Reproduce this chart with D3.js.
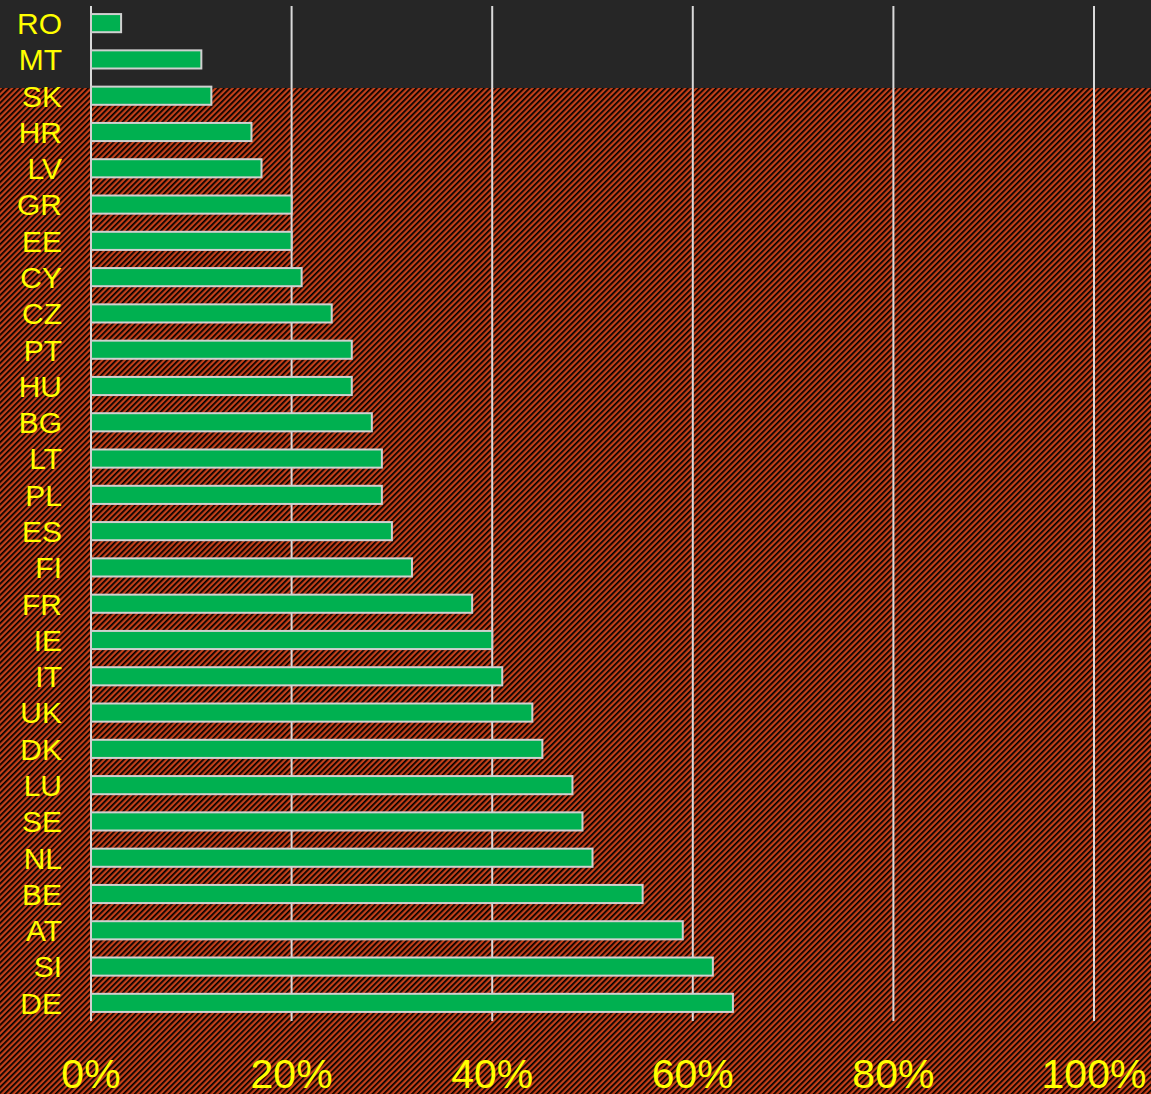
<!DOCTYPE html>
<html>
<head>
<meta charset="utf-8">
<style>
  body { margin: 0; background: #262626; }
  svg { display: block; }
  text { font-family: "Liberation Sans", Arial, sans-serif; }
</style>
</head>
<body>
<svg width="1151" height="1094"></svg>
<script src="https://d3js.org/d3.v7.min.js"></script>
<script>
// country codes, top to bottom
var countries = ["RO","MT","SK","HR","LV","GR","EE","CY","CZ","PT","HU","BG","LT","PL",
                 "ES","FI","FR","IE","IT","UK","DK","LU","SE","NL","BE","AT","SI","DE"];
// share in percent
var values = [3,11,12,16,17,20,20,21,24,26,26,28,29,29,
              30,32,38,40,41,44,45,48,49,50,55,59,62,64];
var tickValues = [0, 20, 40, 60, 80, 100];

var svg = d3.select("svg"),
    width = +svg.attr("width"),
    height = +svg.attr("height");

// hatch pattern for the background
var defs = svg.append("defs");
var pat = defs.append("pattern")
    .attr("id", "hatch")
    .attr("patternUnits", "userSpaceOnUse")
    .attr("width", 4)
    .attr("height", 4)
    .attr("patternTransform", "rotate(45)");
pat.append("rect").attr("width", 4).attr("height", 4).attr("fill", "#c2401a");
pat.append("rect").attr("width", 1.7).attr("height", 4).attr("fill", "#000");

svg.append("rect")
    .attr("width", width).attr("height", height)
    .attr("fill", "url(#hatch)");

// dark band at the top
svg.append("rect")
    .attr("width", width).attr("height", 88)
    .attr("fill", "#262626");

var x = d3.scaleLinear()
    .domain([0, 100])
    .range([91, 1094]);

var y = d3.scaleBand()
    .domain(countries)
    .range([5, 1021])
    .paddingInner(0.5)
    .paddingOuter(0.25);

// gridlines
svg.append("g")
  .selectAll("line")
  .data(tickValues)
  .enter().append("line")
    .attr("x1", function(d) { return x(d); })
    .attr("x2", function(d) { return x(d); })
    .attr("y1", 6)
    .attr("y2", 1021)
    .attr("stroke", "#d9d9d9")
    .attr("stroke-width", 2);

// bars
svg.append("g")
  .selectAll("rect")
  .data(values)
  .enter().append("rect")
    .attr("x", x(0))
    .attr("y", function(d, i) { return y(countries[i]); })
    .attr("width", function(d) { return x(d) - x(0); })
    .attr("height", y.bandwidth())
    .attr("fill", "#00b050")
    .attr("stroke", "#d0d0d0")
    .attr("stroke-width", 2);

// country labels
svg.append("g")
  .selectAll("text")
  .data(countries)
  .enter().append("text")
    .attr("x", 62)
    .attr("y", function(d) { return y(d) + y.bandwidth() / 2; })
    .attr("dy", "0.36em")
    .attr("text-anchor", "end")
    .attr("fill", "#ffff00")
    .attr("font-size", 30)
    .text(function(d) { return d; });

// x tick labels
svg.append("g")
  .selectAll("text")
  .data(tickValues)
  .enter().append("text")
    .attr("x", function(d) { return x(d); })
    .attr("y", 1088)
    .attr("text-anchor", "middle")
    .attr("fill", "#ffff00")
    .attr("font-size", 41)
    .text(function(d) { return d + "%"; });
</script>
</body>
</html>
